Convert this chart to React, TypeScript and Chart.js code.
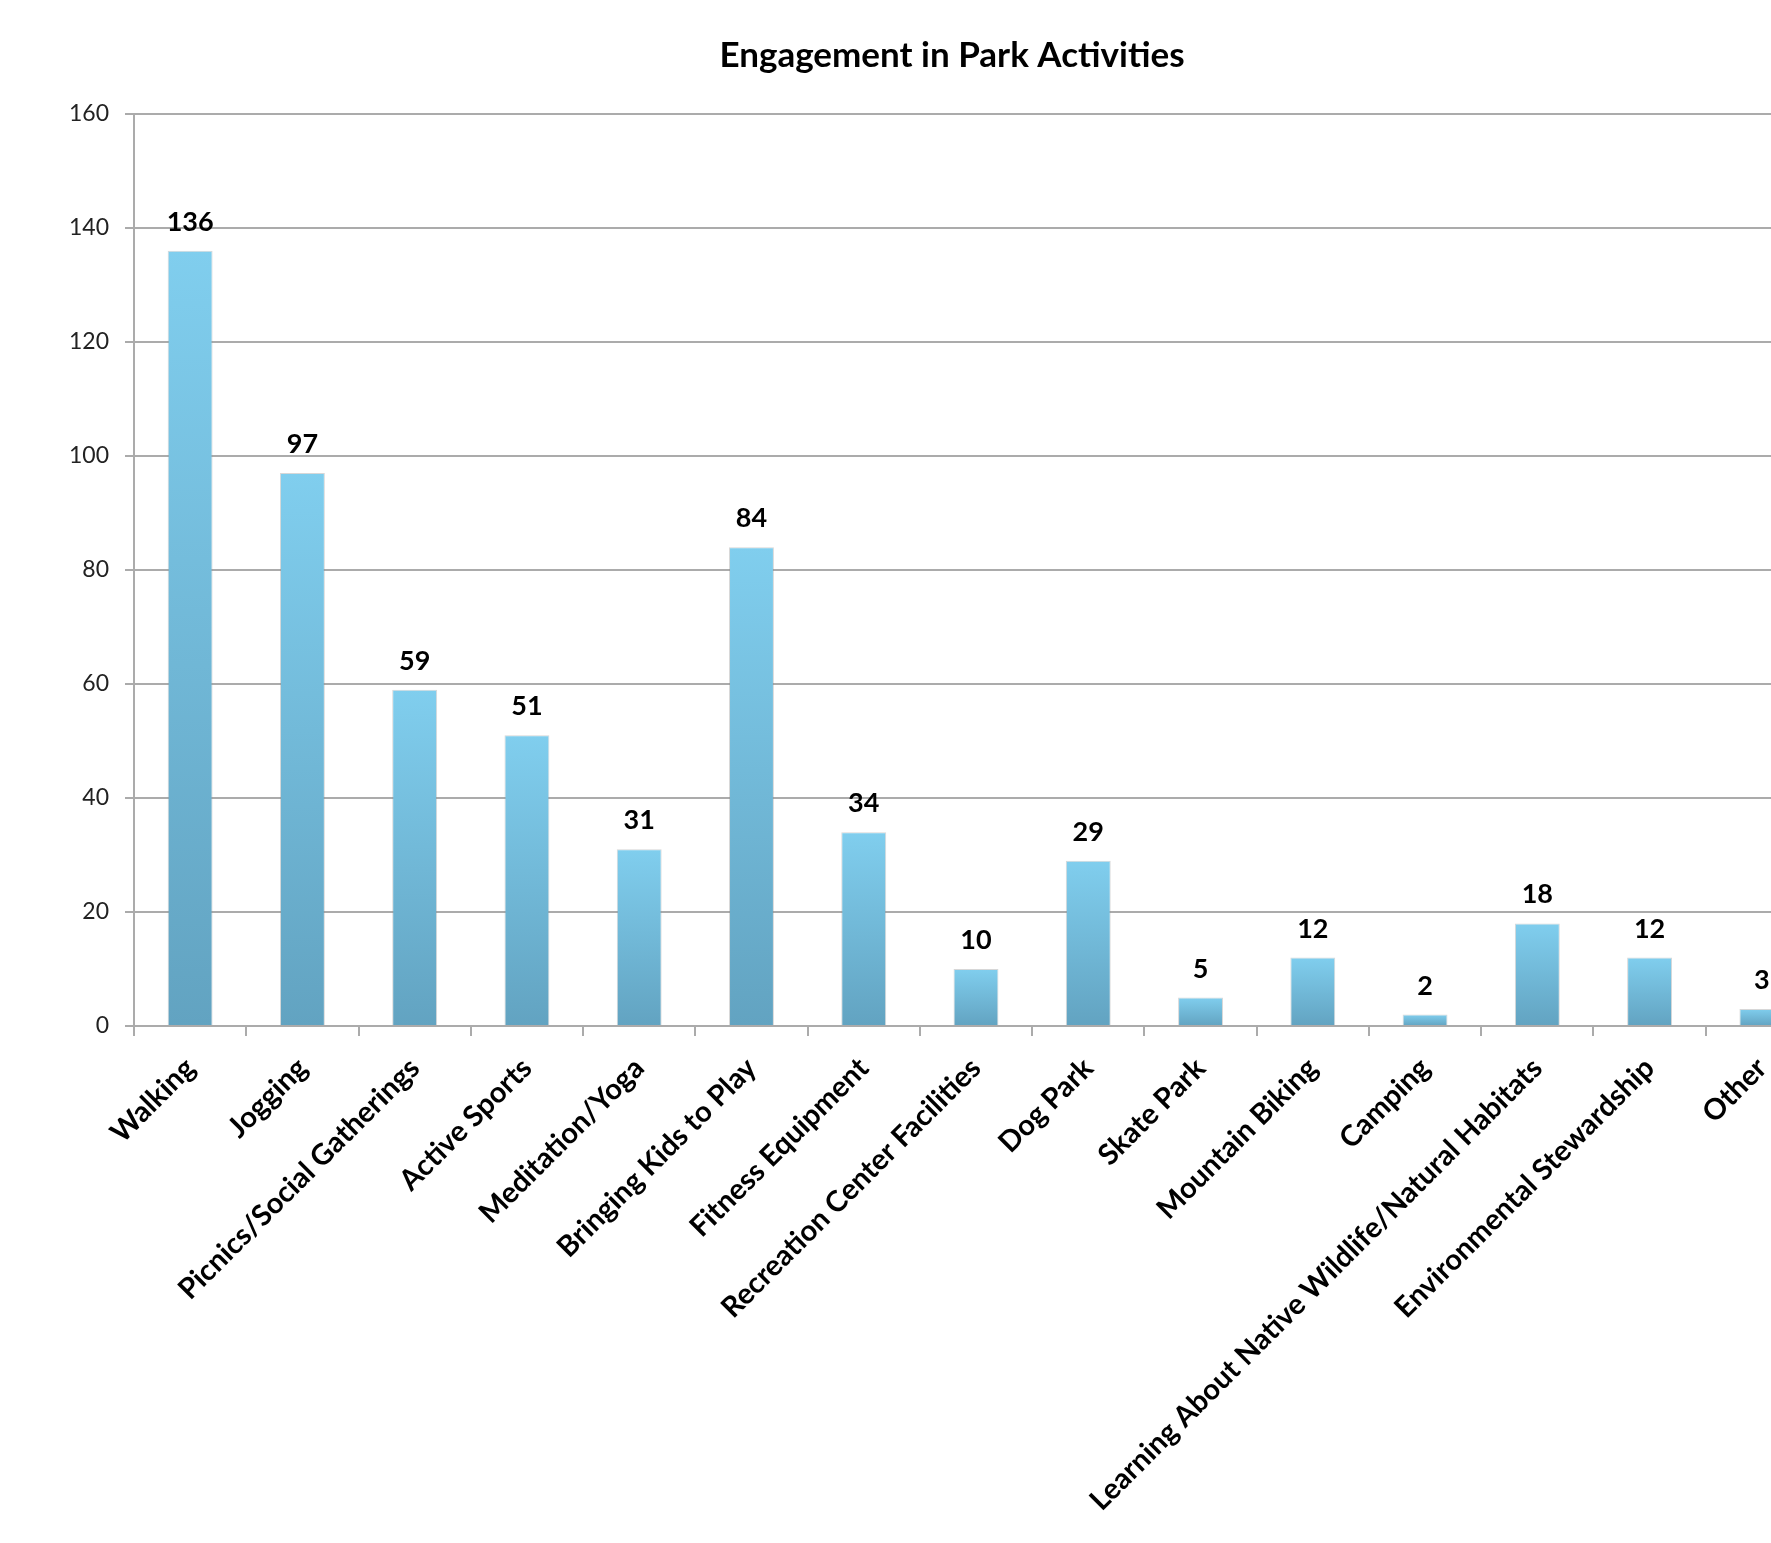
import React, { useEffect, useRef } from "react";
import { Chart, registerables } from "chart.js";

Chart.register(...registerables);

const chartTitle = "Engagement in Park Activities";

const categories = [
  "Walking",
  "Jogging",
  "Picnics/Social Gatherings",
  "Active Sports",
  "Meditation/Yoga",
  "Bringing Kids to Play",
  "Fitness Equipment",
  "Recreation Center Facilities",
  "Dog Park",
  "Skate Park",
  "Mountain Biking",
  "Camping",
  "Learning About Native Wildlife/Natural Habitats",
  "Environmental Stewardship",
  "Other",
];

const engagementCounts = [136, 97, 59, 51, 31, 84, 34, 10, 29, 5, 12, 2, 18, 12, 3];

const yAxisMin = 0;
const yAxisMax = 160;
const yAxisStep = 20;

const FONT = "Lato, 'Open Sans', sans-serif";
const GRID = "#ABABAB";

const titlePlugin = {
  id: "customTitle",
  afterDraw(chart: any) {
    const c = chart.ctx;
    c.save();
    c.font = `bold 35px ${FONT}`;
    c.fillStyle = "#000";
    c.textAlign = "center";
    c.textBaseline = "middle";
    c.fillText(chartTitle, 952, 56);
    c.restore();
  },
};

const valueLabelPlugin = {
  id: "valueLabels",
  afterDatasetsDraw(chart: any) {
    const c = chart.ctx;
    const meta = chart.getDatasetMeta(0);
    c.save();
    c.font = `bold 27px ${FONT}`;
    c.fillStyle = "#000";
    c.textAlign = "center";
    c.textBaseline = "alphabetic";
    meta.data.forEach((el: any, i: number) => {
      const v = chart.data.datasets[0].data[i];
      c.fillText(String(v), el.x, el.y - 20);
    });
    c.restore();
  },
};

export default function App() {
  const canvasRef = useRef<HTMLCanvasElement | null>(null);

  useEffect(() => {
    if (!canvasRef.current) return;
    const chart = new Chart(canvasRef.current, {
      type: "bar",
      data: {
        labels: categories,
        datasets: [
          {
            data: engagementCounts,
            backgroundColor: (ctx: any) => {
              const ch = ctx.chart;
              if (!ch.chartArea || ctx.type !== "data") return "#74BCDC";
              const ys = ch.scales.y;
              const top = ys.getPixelForValue(ctx.raw as number);
              const bot = ys.getPixelForValue(0);
              if (!isFinite(top) || !isFinite(bot) || top === bot) return "#74BCDC";
              const g = ch.ctx.createLinearGradient(0, top, 0, bot);
              g.addColorStop(0, "#80CEEE");
              g.addColorStop(1, "#62A3C1");
              return g;
            },
            borderColor: "rgba(140,140,140,0.35)",
            borderWidth: { top: 1, left: 1, right: 1, bottom: 0 },
            barPercentage: 0.4,
            categoryPercentage: 1,
          },
        ],
      },
      options: {
        animation: false,
        responsive: true,
        maintainAspectRatio: false,
        layout: { padding: { top: 114, right: 12, bottom: 0, left: 0 } },
        plugins: {
          legend: { display: false },
          title: { display: false },
          tooltip: { enabled: false },
        },
        scales: {
          x: {
            offset: true,
            grid: {
              display: true,
              drawOnChartArea: false,
              drawTicks: true,
              tickLength: 10,
              color: GRID,
              lineWidth: 2,
              offset: true,
            },
            border: { display: true, color: GRID, width: 2 },
            ticks: {
              autoSkip: false,
              maxRotation: 45,
              minRotation: 45,
              padding: 15,
              color: "#000",
              font: { family: FONT, weight: "bold", size: 29 },
            },
            afterFit: (s: any) => {
              s.height = 517;
              s.paddingLeft = 0;
              s.paddingRight = 0;
            },
          },
          y: {
            min: yAxisMin,
            max: yAxisMax,
            ticks: {
              stepSize: yAxisStep,
              padding: 16,
              color: "#222",
              font: { family: FONT, size: 23 },
            },
            grid: { color: GRID, lineWidth: 2, tickLength: 9 },
            border: { display: true, color: GRID, width: 2 },
            afterFit: (s: any) => {
              s.width = 134;
              s.paddingTop = 0;
              s.paddingBottom = 0;
            },
          },
        },
      },
      plugins: [titlePlugin, valueLabelPlugin],
    } as any);
    return () => chart.destroy();
  }, []);

  return (
    <div
      style={{
        position: "fixed",
        left: 0,
        top: 0,
        width: 1771,
        height: 1543,
        overflow: "hidden",
        background: "#fff",
      }}
    >
      <div style={{ position: "absolute", left: 0, top: 0, width: 1830, height: 1543 }}>
        <canvas ref={canvasRef} />
      </div>
    </div>
  );
}
